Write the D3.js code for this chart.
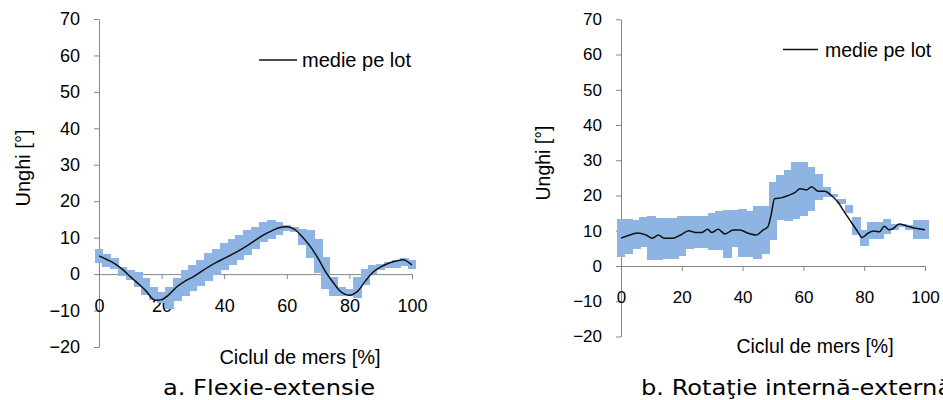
<!DOCTYPE html>
<html>
<head>
<meta charset="utf-8">
<script src="https://cdn.jsdelivr.net/npm/d3@7"></script>
<style>
  body { margin: 0; background: #fff; }
  svg { display: block; }
  .axis path, .axis line { stroke: #868686; stroke-width: 1; }
  .axis text { fill: #000; font-family: "Liberation Sans", Arial, sans-serif; }
</style>
</head>
<body>
<div id="vis"></div>
<script>
// Data -------------------------------------------------------------------------------------------------------------
const yTicks = [-20, -10, 0, 10, 20, 30, 40, 50, 60, 70];
const xTicks = [0, 20, 40, 60, 80, 100];

// band positions (gait cycle %), shared by both panels
const bandX = [0, 2.5, 5, 7.5, 10, 12.5, 15, 17.5, 20, 22.5, 25, 27.5, 30, 32.5, 35, 37.5, 40, 42.5, 45, 47.5,
  50, 52.5, 55, 57.5, 60, 62.5, 65, 67.5, 70, 72.5, 75, 77.5, 80, 82.5, 85, 87.5, 90, 92.5, 95, 97.5, 100];

// a. Flexie-extensie
const flexUpper = [7.0, 5.5, 4.5, 2.0, 1.0, 0.5, -1.2, -3.5, -5.0, -3.5, -1.2, 1.1, 2.5, 3.8, 5.7, 7.0, 8.4, 9.7, 10.6, 12.0,
  13.0, 14.4, 14.8, 14.4, 13.5, 12.8, 12.5, 12.0, 9.7, 4.7, -0.9, -3.5, -4.0, -0.9, 1.4, 2.5, 2.9, 3.4, 3.8, 4.3, 3.8];
const flexLower = [3.0, 2.0, 1.5, -0.5, -1.5, -3.5, -5.8, -7.1, -8.0, -9.5, -7.4, -5.9, -4.5, -3.2, -1.8, -0.3, 1.0, 2.4, 3.8, 5.3,
  7.0, 8.9, 9.7, 10.6, 11.8, 11.5, 7.9, 4.3, 0.3, -4.0, -5.9, -5.9, -6.0, -6.6, -3.0, 0.0, 1.1, 1.6, 1.8, 2.3, 1.5];
const flexMean = [5.0, 4.0, 2.9, 1.3, -0.7, -2.6, -4.6, -7.0, -7.0, -5.5, -3.4, -1.9, -0.8, 0.6, 2.0, 3.2, 4.3, 5.4, 6.6, 7.9,
  9.3, 10.7, 11.8, 12.7, 13.0, 12.3, 10.2, 7.6, 4.3, 0.5, -2.5, -5.0, -5.8, -4.8, -2.0, 0.5, 2.0, 3.0, 3.6, 3.9, 2.5];

// b. Rotatie interna-externa
const rotUpper = [13.2, 13.4, 13.0, 13.9, 14.1, 13.7, 13.7, 13.7, 14.1, 14.1, 14.1, 14.1, 15.1, 15.5, 15.8, 15.8, 16.3, 15.6, 17.0, 17.0,
  23.9, 25.8, 27.2, 29.5, 29.5, 28.1, 26.2, 22.4, 20.5, 18.9, 17.2, 13.9, 10.1, 12.5, 12.5, 13.4, 12.0, 11.8, 11.6, 13.0, 13.0];
const rotLower = [2.6, 3.5, 4.9, 5.4, 1.6, 1.6, 2.1, 2.1, 2.7, 4.9, 5.2, 5.2, 4.6, 4.6, 2.3, 5.4, 2.6, 2.6, 2.1, 3.5,
  7.5, 13.0, 12.8, 13.4, 14.1, 15.6, 18.7, 19.6, 19.6, 17.7, 15.1, 8.7, 5.6, 7.8, 7.8, 9.2, 10.1, 11.1, 10.1, 7.8, 7.8];
const rotMeanX = [0, 2.9, 5.6, 8.2, 10.3, 12.3, 14.2, 16.9, 19.6, 22.3, 24.5, 26.6, 28.5, 29.9, 32, 34.2, 36.9, 39.1, 41.8, 44.5,
  46.7, 48.3, 49.4, 50.5, 53, 55, 57.3, 58.9, 61.1, 62.7, 64.9, 67, 69.2, 71.4, 73.5, 75.7, 77.9, 79.3, 81.2, 83.3,
  85, 86.6, 88.2, 89.3, 91.5, 94.2, 96.4, 100];
const rotMean = [7.9, 8.8, 9.4, 8.8, 7.9, 8.8, 7.9, 7.9, 8.8, 10.0, 9.5, 9.5, 10.4, 9.5, 10.4, 9.1, 10.2, 10.2, 9.3, 8.8,
  10.2, 11.1, 14.6, 19.1, 19.4, 20.0, 20.9, 21.9, 21.6, 22.5, 21.2, 21.2, 20.0, 18.1, 15.3, 12.5, 9.7, 8.1, 9.3, 9.9,
  9.7, 11.3, 10.3, 10.5, 11.9, 11.3, 10.8, 10.3];

// Canvas -----------------------------------------------------------------------------------------------------------
const canvasWidth = 943;
const canvasHeight = 400;
const bandColor = "#8db4e2";
const textColor = "#000";
const fontFamily = '"Liberation Sans", Arial, sans-serif';

const svg = d3.select("#vis")
  .append("svg")
  .attr("width", canvasWidth)
  .attr("height", canvasHeight);

const panels = [
  {
    x0: 99, x1: 412, yTop: 19, yBottom: 347, tickFont: 18, titleFont: 20,
    upper: flexUpper, lower: flexLower, meanX: bandX, mean: flexMean, curve: d3.curveCatmullRom,
    yTitle: [30, 168], xTitle: [300, 364], xLabelPad: 20,
    legend: { x0: 259, x1: 297, y: 60, tx: 302, ty: 67 },
    caption: { text: "a. Flexie-extensie", x: 163, y: 395 }
  },
  {
    x0: 621, x1: 925, yTop: 19.3, yBottom: 336.5, tickFont: 17, titleFont: 19.5,
    upper: rotUpper, lower: rotLower, meanX: rotMeanX, mean: rotMean, curve: d3.curveMonotoneX,
    yTitle: [550, 163], xTitle: [815, 353], xLabelPad: 20,
    legend: { x0: 783, x1: 818, y: 49.5, tx: 825, ty: 57 },
    caption: { text: "b. Rotaţie internă-externă", x: 641, y: 395 }
  }
];

panels.forEach(function(p) {
  const xScale = d3.scaleLinear().domain([0, 100]).range([p.x0, p.x1]);
  const yScale = d3.scaleLinear().domain([-20, 70]).range([p.yBottom, p.yTop]);

  // Axes
  const yAxis = svg.append("g")
    .attr("class", "axis")
    .attr("transform", "translate(" + p.x0 + ",0)")
    .call(d3.axisLeft(yScale).tickValues(yTicks).tickSize(5).tickSizeOuter(0).tickPadding(14));
  yAxis.selectAll("text").style("font-size", p.tickFont + "px");

  const xAxis = svg.append("g")
    .attr("class", "axis")
    .attr("transform", "translate(0," + yScale(0) + ")")
    .call(d3.axisBottom(xScale).tickValues(xTicks).tickSize(5).tickSizeOuter(0).tickPadding(p.xLabelPad));
  xAxis.selectAll("text").style("font-size", p.tickFont + "px");

  // Standard deviation band
  const barWidth = (xScale(bandX[1]) - xScale(bandX[0])) * 1.15;
  svg.append("g")
    .selectAll("rect")
    .data(bandX)
    .join("rect")
    .attr("x", d => xScale(d) - barWidth / 2)
    .attr("width", barWidth)
    .attr("y", (d, i) => yScale(p.upper[i]))
    .attr("height", (d, i) => yScale(p.lower[i]) - yScale(p.upper[i]))
    .attr("fill", bandColor)
    .attr("shape-rendering", "crispEdges");

  // Mean line
  const line = d3.line()
    .x((d, i) => xScale(p.meanX[i]))
    .y(d => yScale(d))
    .curve(p.curve);
  svg.append("path")
    .datum(p.mean)
    .attr("d", line)
    .attr("fill", "none")
    .attr("stroke", "#111")
    .attr("stroke-width", 1.5);

  // Titles
  svg.append("text")
    .text("Unghi [°]")
    .attr("transform", "translate(" + p.yTitle[0] + "," + p.yTitle[1] + ") rotate(-90)")
    .style("text-anchor", "middle")
    .style("font-family", fontFamily)
    .style("font-size", p.titleFont + "px")
    .style("fill", textColor);

  svg.append("text")
    .text("Ciclul de mers [%]")
    .attr("x", p.xTitle[0])
    .attr("y", p.xTitle[1])
    .style("text-anchor", "middle")
    .style("font-family", fontFamily)
    .style("font-size", p.titleFont + "px")
    .style("fill", textColor);

  // Legend
  svg.append("line")
    .attr("x1", p.legend.x0)
    .attr("x2", p.legend.x1)
    .attr("y1", p.legend.y)
    .attr("y2", p.legend.y)
    .attr("stroke", "#111")
    .attr("stroke-width", 1.5);
  svg.append("text")
    .text("medie pe lot")
    .attr("x", p.legend.tx)
    .attr("y", p.legend.ty)
    .style("font-family", fontFamily)
    .style("font-size", p.titleFont + "px")
    .style("fill", textColor);

  // Caption
  svg.append("text")
    .text(p.caption.text)
    .attr("transform", "translate(" + p.caption.x + "," + p.caption.y + ") scale(1.15,1)")
    .style("font-family", '"DejaVu Sans", Verdana, sans-serif')
    .style("font-size", "21px")
    .style("fill", textColor);
});
</script>
</body>
</html>
